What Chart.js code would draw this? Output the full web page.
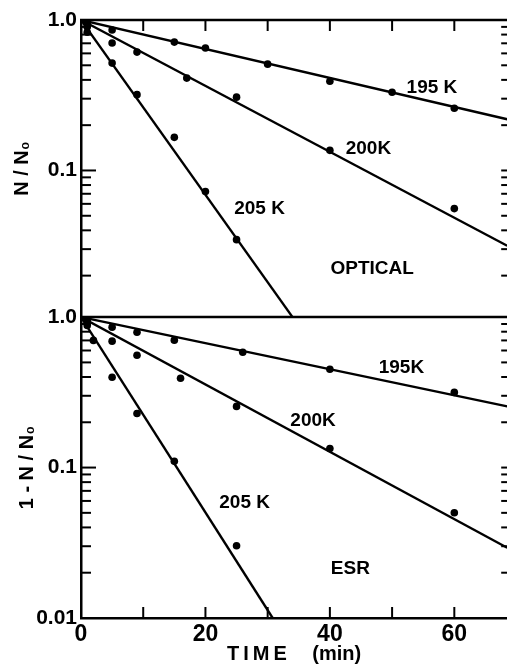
<!DOCTYPE html>
<html>
<head>
<meta charset="utf-8">
<script src="https://cdn.jsdelivr.net/npm/chart.js@4/dist/chart.umd.min.js"></script>
<style>
  html, body { margin: 0; padding: 0; background: #fff; overflow: hidden; }
  #wrap { position: relative; width: 507px; height: 666px; overflow: hidden; }
</style>
</head>
<body>
<div id="wrap"><canvas id="c" width="511" height="666"></canvas></div>
<script>
// Decay curves at 195, 200 and 205 K: optical (N/N0) and ESR (1-N/N0) versus time

// time axis (min)
const timeTicks = [0, 10, 20, 30, 40, 50, 60];
const timeLabels = [0, 20, 40, 60];
const timeMax = 68.5;

// log axis tick positions and the values that carry a label
const logTicks = [1, 0.9, 0.8, 0.7, 0.6, 0.5, 0.4, 0.3, 0.2,
                  0.1, 0.09, 0.08, 0.07, 0.06, 0.05, 0.04, 0.03, 0.02, 0.01];
const topLabels = [1, 0.1];
const botLabels = [1, 0.1, 0.01];

// optical measurements
const optT195 = [1, 5, 15, 20, 30, 40, 50, 60];
const optV195 = [0.95, 0.858, 0.713, 0.651, 0.509, 0.392, 0.331, 0.259];
const optT200 = [1, 5, 9, 17, 25, 40, 60];
const optV200 = [0.90, 0.703, 0.612, 0.411, 0.307, 0.136, 0.0558];
const optT205 = [1, 5, 9, 15, 20, 25];
const optV205 = [0.83, 0.517, 0.319, 0.166, 0.0724, 0.0347];

// optical fitted lines (end points)
const optFitT195 = [0, 68.5];  const optFitV195 = [1, 0.219];
const optFitT200 = [0, 68.5];  const optFitV200 = [1, 0.0316];
const optFitT205 = [0, 34];    const optFitV205 = [1, 0.0106];

// ESR measurements
const esrT195 = [1, 5, 9, 15, 26, 40, 60];
const esrV195 = [0.95, 0.858, 0.794, 0.703, 0.584, 0.450, 0.316];
const esrT200 = [1, 5, 9, 16, 25, 40, 60];
const esrV200 = [0.88, 0.692, 0.558, 0.392, 0.255, 0.134, 0.0501];
const esrT205 = [2, 5, 9, 15, 25];
const esrV205 = [0.70, 0.398, 0.229, 0.110, 0.0302];

// ESR fitted lines (end points)
const esrFitT195 = [0, 68.5]; const esrFitV195 = [1, 0.255];
const esrFitT200 = [0, 68.5]; const esrFitV200 = [1, 0.0293];
const esrFitT205 = [0, 30.8]; const esrFitV205 = [1, 0.01];

// curve labels
const notes = [
  { text: '195 K',   t: 56.4, v: 0.352,  axis: 'yTop' },
  { text: '200K',    t: 46.2, v: 0.140,  axis: 'yTop' },
  { text: '205 K',   t: 28.7, v: 0.0558, axis: 'yTop' },
  { text: 'OPTICAL', t: 46.8, v: 0.0222, axis: 'yTop' },
  { text: '195K',    t: 51.5, v: 0.464,  axis: 'yBot' },
  { text: '200K',    t: 37.3, v: 0.206,  axis: 'yBot' },
  { text: '205 K',   t: 26.3, v: 0.0584, axis: 'yBot' },
  { text: 'ESR',     t: 43.3, v: 0.0212, axis: 'yBot' }
];

const FONT = '"Liberation Sans", Arial, sans-serif';
const pairs = (ts, vs) => ts.map((t, i) => ({ x: t, y: vs[i] }));

function dots(ts, vs, axis) {
  return { data: pairs(ts, vs), yAxisID: axis, showLine: false,
           pointRadius: 3.8, pointHoverRadius: 3.8, pointBackgroundColor: '#000',
           pointBorderWidth: 0, borderColor: '#000' };
}
function fit(ts, vs, axis) {
  return { data: pairs(ts, vs), yAxisID: axis, showLine: true,
           pointRadius: 0, borderColor: '#000', borderWidth: 2.4, fill: false };
}

function logAxis(minV, weight, labels, titleText, titlePad) {
  return {
    type: 'logarithmic', position: 'left', stack: 'panels', stackWeight: weight,
    min: minV, max: 1,
    afterBuildTicks: s => { s.ticks = logTicks.filter(v => v >= minV - 1e-9).map(v => ({ value: v })); },
    afterFit: s => { s.width = 81; },
    grid: { display: false, drawTicks: false },
    border: { display: true, color: '#000', width: 2.5 },
    ticks: {
      autoSkip: false, padding: 4, color: '#000',
      font: { family: FONT, size: 21, weight: 'bold' },
      callback: v => {
        const hit = labels.find(l => Math.abs(l - v) < 1e-9);
        return hit === undefined ? '' : (hit === 1 ? '1.0' : String(hit));
      }
    },
    title: { display: true, text: titleText, color: '#000',
             font: { family: FONT, size: 20, weight: 'bold' },
             padding: { top: titlePad, bottom: 0 } }
  };
}

// inward tick marks, panel edges and curve labels
const frameMarks = {
  id: 'frameMarks',
  afterDraw(chart) {
    const { ctx, chartArea: a, scales } = chart;
    const x = scales.x, yT = scales.yTop, yB = scales.yBot;
    const seg = (x1, y1, x2, y2) => { ctx.beginPath(); ctx.moveTo(x1, y1); ctx.lineTo(x2, y2); ctx.stroke(); };
    ctx.save();
    ctx.strokeStyle = '#000';
    ctx.lineWidth = 2.5;
    seg(a.left - 1, yT.top, a.right, yT.top);
    seg(a.left - 1, yT.bottom, a.right, yT.bottom);

    ctx.lineWidth = 2;
    for (const t of timeTicks) {
      if (t === 0) continue;
      const px = x.getPixelForValue(t);
      seg(px, yT.top, px, yT.top + 11);
      seg(px, yB.bottom, px, yB.bottom - 11);
    }
    for (const [s, labels] of [[yT, topLabels], [yB, botLabels]]) {
      for (const tk of s.ticks) {
        const py = s.getPixelForValue(tk.value);
        if (py <= s.top + 2 || py >= s.bottom - 2) continue;
        const major = labels.some(l => Math.abs(l - tk.value) < 1e-9);
        seg(a.left, py, a.left + (major ? 15 : 10), py);
        seg(a.right, py, a.right - 6, py);
      }
    }

    ctx.fillStyle = '#000';
    ctx.font = 'bold 19px ' + FONT;
    ctx.textAlign = 'center';
    ctx.textBaseline = 'middle';
    for (const n of notes) {
      ctx.fillText(n.text, x.getPixelForValue(n.t), scales[n.axis].getPixelForValue(n.v));
    }
    ctx.restore();
  }
};

new Chart(document.getElementById('c'), {
  type: 'scatter',
  data: {
    datasets: [
      fit(optFitT195, optFitV195, 'yTop'), fit(optFitT200, optFitV200, 'yTop'), fit(optFitT205, optFitV205, 'yTop'),
      dots(optT195, optV195, 'yTop'), dots(optT200, optV200, 'yTop'), dots(optT205, optV205, 'yTop'),
      fit(esrFitT195, esrFitV195, 'yBot'), fit(esrFitT200, esrFitV200, 'yBot'), fit(esrFitT205, esrFitV205, 'yBot'),
      dots(esrT195, esrV195, 'yBot'), dots(esrT200, esrV200, 'yBot'), dots(esrT205, esrV205, 'yBot')
    ]
  },
  options: {
    responsive: false, animation: false, devicePixelRatio: 1,
    layout: { padding: { left: 0, right: 0, top: 20, bottom: 0 } },
    plugins: { legend: { display: false }, tooltip: { enabled: false } },
    scales: {
      x: {
        type: 'linear', position: 'bottom', min: 0, max: timeMax,
        afterBuildTicks: s => { s.ticks = timeTicks.map(v => ({ value: v })); },
        afterFit: s => { s.height = 48; },
        grid: { display: false, drawTicks: false },
        border: { display: true, color: '#000', width: 2.5 },
        ticks: {
          autoSkip: false, padding: 3, maxRotation: 0, color: '#000',
          font: { family: FONT, size: 23, weight: 'bold' },
          callback: v => timeLabels.includes(v) ? String(v) : ''
        },
        title: { display: true, text: 'T\u2009I\u2009M\u2009E\u2003 (min)', color: '#000',
                 font: { family: FONT, size: 20, weight: 'bold' },
                 padding: { top: 0, bottom: 0 } }
      },
      yBot: logAxis(0.01, 2, botLabels, '1 - N / N\u2080', 15),
      yTop: logAxis(0.0106, 1.975, topLabels, 'N / N\u2080', 10)
    }
  },
  plugins: [frameMarks]
});
</script>
</body>
</html>
